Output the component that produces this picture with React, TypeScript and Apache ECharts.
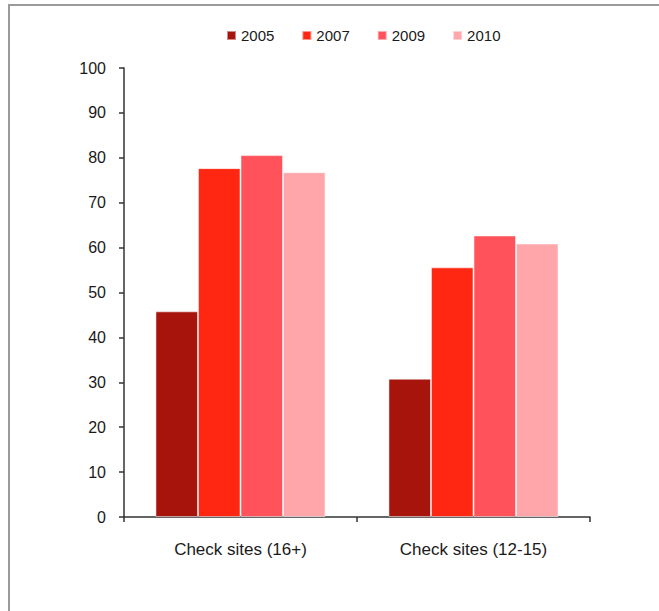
import React, { useEffect, useRef } from "react";
import * as echarts from "echarts";

const categories = ["Check sites (16+)", "Check sites (12-15)"];
const seriesNames = ["2005", "2007", "2009", "2010"];
const values2005 = [45.8, 30.8];
const values2007 = [77.7, 55.6];
const values2009 = [80.6, 62.7];
const values2010 = [76.8, 60.9];
const seriesColors = ["#a6140c", "#ff2612", "#ff525a", "#ffa6ab"];
const yTicks = { min: 0, max: 100, interval: 10 };

const FONT = "'Liberation Sans', Arial, sans-serif";

export default function App() {
  const ref = useRef<HTMLDivElement>(null);
  useEffect(() => {
    if (!ref.current) return;
    const chart = echarts.init(ref.current, undefined, { renderer: "svg" });
    const allValues = [values2005, values2007, values2009, values2010];
    chart.setOption({
      animation: false,
      backgroundColor: "#ffffff",
      textStyle: { fontFamily: FONT },
      graphic: [
        {
          type: "rect",
          shape: { x: 9, y: 5, width: 1000, height: 1000 },
          style: { fill: "none", stroke: "#9a9a9a", lineWidth: 2 },
          silent: true,
        },
      ],
      legend: {
        left: 221,
        top: 23,
        itemWidth: 9,
        itemHeight: 9,
        itemGap: 27,
        icon: "rect",
        textStyle: { fontSize: 15, color: "#1a1a1a", fontFamily: FONT },
        data: seriesNames,
      },
      grid: { left: 124, right: 69, top: 68, bottom: 94, containLabel: false },
      xAxis: {
        type: "category",
        data: categories,
        axisLine: { show: true, lineStyle: { color: "#333333", width: 1.5 } },
        axisTick: { show: true, length: 5, lineStyle: { color: "#333333", width: 1.5 } },
        axisLabel: { fontSize: 17, color: "#1a1a1a", margin: 24, fontFamily: FONT },
      },
      yAxis: {
        type: "value",
        min: yTicks.min,
        max: yTicks.max,
        interval: yTicks.interval,
        splitLine: { show: false },
        axisLine: { show: true, lineStyle: { color: "#333333", width: 1.5 } },
        axisTick: { show: true, length: 5, lineStyle: { color: "#333333", width: 1.5 } },
        axisLabel: { fontSize: 16, color: "#1a1a1a", margin: 18, fontFamily: FONT },
      },
      series: seriesNames.map((name, i) => ({
        name,
        type: "bar",
        data: allValues[i],
        barGap: "0%",
        barCategoryGap: "27%",
        itemStyle: {
          color: seriesColors[i],
          borderColor: "rgba(255,255,255,0.5)",
          borderWidth: 1,
        },
      })),
    });
    return () => chart.dispose();
  }, []);
  return (
    <div
      ref={ref}
      style={{ position: "fixed", left: 0, top: 0, width: 659, height: 611 }}
    />
  );
}
